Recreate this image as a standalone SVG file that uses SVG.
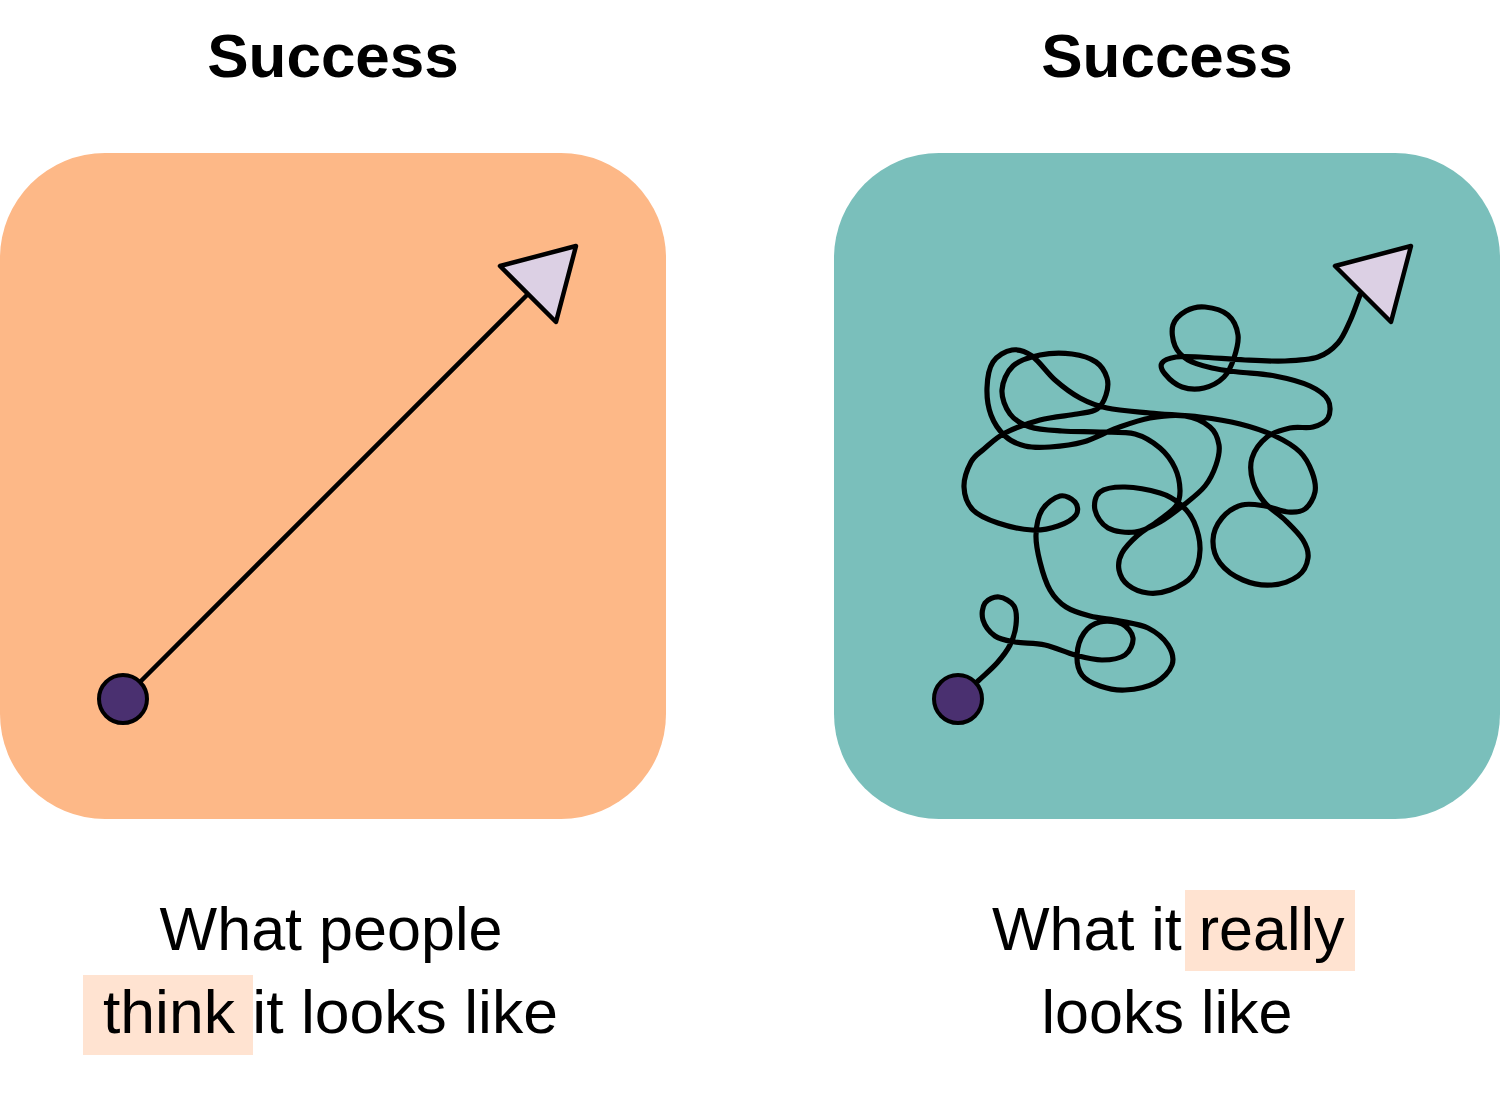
<svg xmlns="http://www.w3.org/2000/svg" width="1500" height="1114" viewBox="0 0 1500 1114">
<style>
.title{font-family:"Liberation Sans",Arial,sans-serif;font-weight:bold;font-size:62px;fill:#000;text-anchor:middle}
.cap{font-family:"Liberation Sans",Arial,sans-serif;font-size:61px;fill:#000}
.mid{text-anchor:middle}
.hl{fill:#FFE3D1}
.dot{fill:#4A3070;stroke:#000;stroke-width:4}
.head{fill:#DCD0E4;stroke:#000;stroke-width:4.5;stroke-linejoin:round}
.line{fill:none;stroke:#000;stroke-width:4.5;stroke-linecap:round;stroke-linejoin:round}
.squig{fill:none;stroke:#000;stroke-width:5.2;stroke-linecap:round;stroke-linejoin:round}
</style>
<rect width="1500" height="1114" fill="#fff"/>
<g id="left-panel">
<text class="title" x="333" y="77">Success</text>
<rect x="0" y="153" width="666" height="666" rx="105" ry="105" fill="#FDB887"/>
</g>
<g id="right-panel">
<text class="title" x="1167" y="77">Success</text>
<rect x="834" y="153" width="666" height="666" rx="105" ry="105" fill="#7ABFBB"/>
</g>
<g id="connectors">
<line class="line" x1="123" y1="699" x2="528" y2="294"/>
<path class="squig" d="M978,681 C984.3,675 991.7,669 997,663 S1006.8,651.3 1010,645 S1015.3,631.5 1016,625 S1016.8,610.7 1014,606 S1003.8,597.5 999,597 S987.7,599.2 985,603 S981.3,614.5 983,620 S989.7,632.3 995,636 S1006.7,640.5 1015,642 S1035,642.8 1045,645 S1065.5,652.5 1075,655 S1093.7,660 1102,660 S1119.8,658.7 1125,655 S1133.5,643.2 1133,638 S1127.5,626.7 1122,624 S1106.3,620.5 1100,622 S1087.8,627.5 1084,633 S1077.3,648 1077,655 S1078.2,669.8 1082,675 S1092.8,683.5 1100,686 S1115.8,690.5 1125,690 S1147.2,687.2 1155,683 S1169.8,671.3 1172,665 S1172,651.2 1168,645 S1156,632 1148,628 S1129.7,623 1120,621 S1099,618.3 1090,616 S1072.7,611.3 1066,607 S1054.3,597.5 1050,590 S1042.3,571.2 1040,562 S1035.7,543.7 1036,535 S1038,516.5 1042,510 S1054.5,497.3 1060,496 S1072.3,498.8 1075,502 S1078.8,511 1076,515 S1065.3,523.5 1058,526 S1042,530.5 1032,530 S1007.8,526.3 998,523 S978.7,516 973,510 S964.3,495 964,487 S967.7,468.3 971,462 S978.3,453.8 984,449 S995.7,437.8 1005,433 S1028,423.2 1040,420 S1067.5,415.8 1077,414 S1092.2,412.2 1097,409 S1104.3,400.2 1106,395 S1108.7,383.5 1107,378 S1101.8,366 1096,362 S1081.3,355.2 1072,354 S1049.8,353 1040,355 S1019.3,360.2 1013,366 S1002.5,382 1002,390 S1005.3,407.8 1010,414 S1021.3,424.2 1030,427 S1050.3,430.2 1062,431 S1087.8,431.5 1100,432 S1125,431.3 1135,434 S1153.3,442.3 1160,448 S1171.7,461 1175,468 S1179.8,483.7 1180,490 S1179.7,500.8 1176,506 S1164.3,516.2 1158,521 S1144,529.7 1138,535 S1125.2,547.2 1122,553 S1118,564.7 1119,570 S1123.2,581.2 1128,585 S1141,592.2 1148,593 S1162.7,592.8 1170,590 S1187,582.7 1192,576 S1199.7,559 1200,550 S1197.3,529.7 1194,522 S1185.7,508.8 1180,504 S1169.2,495.8 1160,493 S1135,487.2 1125,487 S1105,488.2 1100,492 S1093.7,504 1095,510 S1101.3,524.3 1108,528 S1126.3,533 1135,532 S1151.7,526.7 1160,522 S1177.5,510 1185,504 S1199.8,492.5 1205,486 S1213.7,471.8 1216,465 S1220,451.3 1219,445 S1215.7,431.8 1210,427 S1195,417.5 1185,416 S1161.3,416 1150,418 S1128.2,424 1117,428 S1094.2,438.8 1083,442 S1059.7,446.3 1050,447 S1032.5,447.8 1025,446 S1010.7,441.2 1005,436 S994,423 991,415 S986.7,396.8 987,388 S988.8,368.3 993,362 S1005.5,351 1012,350 S1024.8,351 1032,356 S1047,373 1055,380 S1071.3,393.3 1080,398 S1095.3,405.5 1107,408 S1134.5,411.5 1150,413 S1185,415.2 1200,417 S1227.5,420.8 1240,424 S1265,431.3 1275,436 S1293.8,446 1300,452 S1309.5,465.3 1312,472 S1316.2,485.8 1315,492 S1309.5,505.7 1305,509 S1294.7,512.5 1288,512 S1272.7,507.2 1265,506 S1249.2,503 1242,505 S1226.8,512.2 1222,518 S1213.3,532.5 1213,540 S1215,556.3 1220,563 S1234.3,576.3 1243,580 S1262.8,585.7 1272,585 S1292,580.5 1298,576 S1307.2,564 1308,558 S1306.8,546.3 1303,540 S1291.3,526.2 1285,520 S1270.3,509.3 1265,503 S1255.2,489.5 1253,482 S1249.7,465.5 1252,458 S1260.7,442 1267,437 S1282.3,429.7 1290,428 S1306.7,428.7 1313,427 S1325.5,422.5 1328,418 S1331,405.3 1328,400 S1318.8,390 1310,386 S1287,378.3 1275,376 S1248.5,373.3 1238,372 S1220.3,370 1212,368 S1194.2,363.7 1188,360 S1177.5,351.8 1175,346 S1171.2,330.8 1173,325 S1180.7,314 1186,311 S1198,306.3 1205,307 S1222.5,310.3 1228,315 S1237,327.8 1238,335 S1236.3,351 1234,358 S1229,372 1224,377 S1211,386.3 1204,388 S1188.5,389.3 1182,387 S1168.3,378 1165,374 S1160.2,365.8 1162,363 S1169.7,358 1176,357 S1188.5,356.5 1200,357 S1230.8,359.3 1245,360 S1272.8,361.5 1285,361 S1309.2,360 1318,357 S1332.7,349 1338,343 S1346.3,329 1350,321 S1356.7,303.7 1360,295"/>
</g>
<g id="left-start"><circle class="dot" cx="123" cy="699" r="24"/></g>
<g id="left-end"><polygon class="head" points="500,266 576,246 556,322"/></g>
<g id="right-start"><circle class="dot" cx="958" cy="699" r="24"/></g>
<g id="right-end"><polygon class="head" points="1335,266 1411,246 1391,322"/></g>
<g id="left-caption">
<rect class="hl" x="83" y="975" width="170" height="80"/>
<text class="cap mid" x="331" y="950" textLength="343" lengthAdjust="spacingAndGlyphs">What people</text>
<text class="cap" x="103" y="1033" textLength="455" lengthAdjust="spacingAndGlyphs">think it looks like</text>
</g>
<g id="right-caption">
<rect class="hl" x="1185" y="890" width="170" height="81"/>
<text class="cap" x="992" y="950">What it really</text>
<text class="cap mid" x="1167" y="1033">looks like</text>
</g>
</svg>
